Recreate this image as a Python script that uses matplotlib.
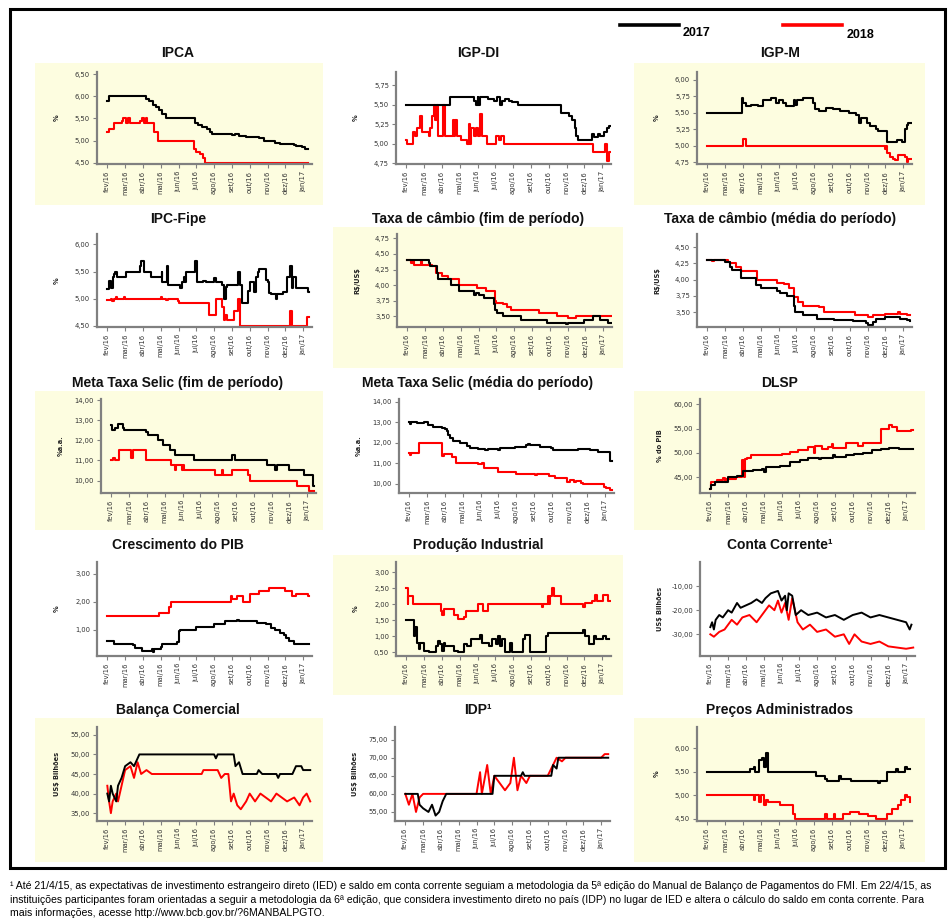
import matplotlib
matplotlib.use("Agg")
import matplotlib.pyplot as plt
from matplotlib.patches import Rectangle
from matplotlib.lines import Line2D
from matplotlib.ticker import FuncFormatter

W, H = 949, 922

months = ["fev/16", "mar/16", "abr/16", "mai/16", "jun/16", "jul/16",
          "ago/16", "set/16", "out/16", "nov/16", "dez/16", "jan/17"]

# each series: (month offset from fev/16, value) breakpoints
ipca_2017 = [(0, 5.9), (0.1, 6.0), (2.2, 5.95), (2.35, 5.9), (2.55, 5.8), (2.75, 5.75), (2.9, 5.7),
             (3.1, 5.6), (3.3, 5.5), (4.9, 5.4), (5.1, 5.35), (5.3, 5.3), (5.6, 5.25), (5.75, 5.2),
             (5.9, 5.15), (7.0, 5.13), (7.2, 5.15), (7.4, 5.1), (7.8, 5.08), (8.0, 5.07), (8.5, 5.05),
             (8.8, 5.0), (9.2, 4.98), (9.4, 4.95), (9.7, 4.93), (10.2, 4.92), (10.5, 4.9), (10.6, 4.87),
             (10.75, 4.88), (10.95, 4.85), (11.1, 4.82), (11.2, 4.8), (11.25, 4.8)]
ipca_2018 = [(0, 5.2), (0.1, 5.25), (0.35, 5.4), (0.8, 5.45), (0.9, 5.5), (1.05, 5.4), (1.15, 5.5),
             (1.3, 5.4), (1.85, 5.45), (1.95, 5.5), (2.05, 5.4), (2.15, 5.5), (2.25, 5.4), (2.6, 5.2),
             (2.85, 5.0), (4.87, 4.8), (5.0, 4.75), (5.2, 4.7), (5.35, 4.6), (5.48, 4.5), (11.25, 4.5)]

igpdi_2017 = [(0, 5.5), (2.45, 5.6), (3.8, 5.55), (3.9, 5.5), (4.0, 5.6), (4.05, 5.5), (4.15, 5.6),
              (4.6, 5.57), (4.9, 5.55), (5.1, 5.6), (5.25, 5.5), (5.4, 5.55), (5.55, 5.58), (5.75, 5.55),
              (5.95, 5.53), (6.3, 5.5), (8.7, 5.4), (9.15, 5.35), (9.3, 5.3), (9.45, 5.2), (9.55, 5.1),
              (9.65, 5.05), (10.45, 5.13), (10.55, 5.08), (10.75, 5.13), (10.9, 5.1), (11.1, 5.15),
              (11.3, 5.2), (11.4, 5.23), (11.45, 5.23)]
igpdi_2018 = [(0, 5.05), (0.05, 5.0), (0.35, 5.15), (0.5, 5.1), (0.6, 5.2), (0.75, 5.35), (0.9, 5.15),
              (1.25, 5.1), (1.35, 5.2), (1.45, 5.35), (1.55, 5.5), (1.62, 5.3), (1.7, 5.5), (1.8, 5.1),
              (2.05, 5.5), (2.2, 5.1), (2.6, 5.3), (2.68, 5.1), (2.75, 5.3), (2.85, 5.1), (3.1, 5.05),
              (3.4, 5.0), (3.5, 5.25), (3.58, 5.0), (3.65, 5.2), (3.8, 5.1), (3.9, 5.2), (4.0, 5.1),
              (4.15, 5.38), (4.25, 5.1), (4.55, 5.0), (5.05, 5.1), (5.2, 5.05), (5.3, 5.1), (5.5, 5.0),
              (10.5, 4.9), (11.15, 5.0), (11.25, 4.9), (11.3, 4.78), (11.37, 4.9), (11.45, 4.9)]

igpm_2017 = [(0, 5.5), (1.95, 5.72), (2.0, 5.65), (2.15, 5.6), (2.45, 5.62), (2.85, 5.6), (3.15, 5.7),
             (3.55, 5.72), (3.85, 5.65), (4.0, 5.7), (4.25, 5.65), (4.4, 5.6), (4.85, 5.7), (4.95, 5.62),
             (5.05, 5.7), (5.35, 5.72), (5.95, 5.65), (6.05, 5.55), (6.3, 5.52), (6.65, 5.57), (7.05, 5.55),
             (7.45, 5.52), (7.95, 5.5), (8.35, 5.47), (8.55, 5.35), (8.65, 5.42), (8.95, 5.35), (9.15, 5.3),
             (9.45, 5.25), (9.6, 5.22), (10.1, 5.05), (10.65, 5.08), (10.95, 5.05), (11.1, 5.25),
             (11.2, 5.32), (11.3, 5.35), (11.47, 5.35)]
igpm_2018 = [(0, 5.0), (2.0, 5.1), (2.2, 5.0), (10.0, 4.95), (10.05, 5.0), (10.12, 4.88), (10.25, 4.82),
             (10.45, 4.8), (10.55, 4.78), (10.7, 4.85), (11.1, 4.82), (11.2, 4.75), (11.3, 4.8), (11.47, 4.8)]

ipcfipe_2017 = [(0, 5.18), (0.12, 5.32), (0.22, 5.2), (0.3, 5.4), (0.4, 5.45), (0.45, 5.5), (0.52, 5.4),
                (1.05, 5.5), (1.85, 5.6), (1.92, 5.7), (2.08, 5.5), (2.45, 5.4), (3.05, 5.5), (3.1, 5.3),
                (3.35, 5.6), (3.42, 5.25), (4.1, 5.2), (4.2, 5.3), (4.3, 5.4), (4.35, 5.3), (4.42, 5.5),
                (4.95, 5.7), (5.02, 5.3), (5.35, 5.33), (5.55, 5.3), (6.0, 5.38), (6.1, 5.3), (6.45, 5.25),
                (6.55, 5.0), (6.65, 5.22), (6.75, 5.25), (7.35, 5.5), (7.45, 5.25), (7.55, 4.93), (7.9, 5.15),
                (8.0, 5.3), (8.25, 5.12), (8.35, 5.4), (8.45, 5.5), (8.55, 5.55), (8.9, 5.35), (9.0, 5.3),
                (9.1, 5.1), (9.2, 5.08), (9.5, 5.0), (9.55, 5.08), (9.85, 5.13), (10.1, 5.4), (10.28, 5.6),
                (10.38, 5.2), (10.45, 5.4), (10.58, 5.2), (11.25, 5.13), (11.35, 5.13)]
ipcfipe_2018 = [(0, 4.97), (0.2, 5.0), (0.28, 4.95), (0.35, 5.0), (0.48, 5.03), (0.55, 5.0), (0.95, 5.04),
                (1.02, 5.0), (3.0, 5.03), (3.08, 5.0), (3.3, 4.97), (3.4, 5.0), (3.95, 4.95), (4.0, 4.92),
                (5.73, 4.7), (6.1, 5.0), (6.45, 4.85), (6.55, 4.6), (6.62, 4.7), (6.72, 4.6), (7.1, 4.77),
                (7.35, 5.0), (7.45, 4.5), (10.28, 4.77), (10.38, 4.5), (11.24, 4.66), (11.35, 4.66)]

cambio_fim_2017 = [(0, 4.4), (1.2, 4.35), (1.3, 4.3), (1.65, 4.2), (1.75, 4.1), (2.45, 4.0), (2.88, 3.9),
                   (3.75, 3.85), (3.85, 3.88), (4.0, 3.85), (4.31, 3.8), (4.87, 3.7), (4.95, 3.6),
                   (5.05, 3.55), (5.35, 3.5), (6.4, 3.45), (7.85, 3.4), (8.9, 3.38), (9.05, 3.4),
                   (9.9, 3.45), (10.45, 3.5), (10.85, 3.45), (11.3, 3.4), (11.45, 3.4)]
cambio_fim_2018 = [(0, 4.4), (0.2, 4.35), (0.3, 4.38), (0.4, 4.32), (0.75, 4.38), (0.85, 4.32), (1.4, 4.3),
                   (1.6, 4.2), (1.95, 4.15), (2.3, 4.1), (2.88, 4.0), (3.9, 3.95), (4.4, 3.9), (4.9, 3.75),
                   (5.0, 3.72), (5.35, 3.7), (5.6, 3.65), (5.8, 3.6), (7.4, 3.55), (8.4, 3.5), (9.0, 3.48),
                   (9.45, 3.5), (11.45, 3.5)]

cambio_med_2017 = [(0, 4.3), (1.0, 4.27), (1.25, 4.2), (1.4, 4.15), (1.87, 4.03), (2.75, 3.92), (3.0, 3.87),
                   (3.9, 3.83), (4.1, 3.8), (4.45, 3.75), (4.85, 3.6), (4.95, 3.5), (5.35, 3.45), (6.15, 3.4),
                   (7.1, 3.38), (8.2, 3.36), (8.9, 3.33), (9.05, 3.3), (9.3, 3.35), (9.45, 3.4), (10.0, 3.42),
                   (10.8, 3.4), (11.2, 3.37), (11.4, 3.36)]
cambio_med_2018 = [(0, 4.3), (0.25, 4.28), (0.4, 4.3), (1.15, 4.27), (1.3, 4.25), (1.6, 4.2), (1.87, 4.13),
                   (2.77, 4.0), (3.89, 3.95), (4.3, 3.93), (4.6, 3.87), (4.88, 3.73), (5.1, 3.65), (5.4, 3.6),
                   (6.3, 3.58), (6.55, 3.5), (8.3, 3.45), (9.0, 3.42), (9.3, 3.45), (10.0, 3.47), (10.7, 3.5),
                   (10.85, 3.47), (11.2, 3.45), (11.4, 3.45)]

selic_fim_2017 = [(0, 12.75), (0.05, 12.5), (0.2, 12.6), (0.38, 12.8), (0.63, 12.6), (0.7, 12.5), (1.95, 12.4),
                  (2.05, 12.25), (2.6, 12.0), (2.9, 11.75), (3.28, 11.5), (3.56, 11.25), (4.67, 11.0),
                  (6.8, 11.25), (6.95, 11.0), (8.76, 10.75), (9.2, 10.5), (9.3, 10.75), (10.0, 10.5),
                  (10.8, 10.25), (11.33, 9.75), (11.37, 9.75)]
selic_fim_2018 = [(0, 11.0), (0.1, 11.1), (0.2, 11.0), (0.42, 11.5), (1.1, 11.1), (1.2, 11.5), (1.94, 11.0),
                  (3.33, 10.75), (3.6, 10.5), (3.65, 10.75), (3.95, 10.5), (4.0, 10.75), (4.1, 10.5),
                  (5.85, 10.25), (6.2, 10.5), (6.28, 10.25), (6.8, 10.5), (7.68, 10.25), (7.8, 10.0),
                  (10.45, 9.75), (11.12, 9.5), (11.37, 9.5)]

selic_med_2017 = [(0, 13.0), (0.05, 12.9), (0.1, 13.0), (0.45, 12.95), (0.85, 13.0), (1.05, 12.85), (1.35, 12.8),
                  (1.85, 12.75), (2.0, 12.7), (2.1, 12.6), (2.2, 12.4), (2.3, 12.25), (2.45, 12.1), (2.85, 12.0),
                  (3.25, 11.85), (3.4, 11.75), (3.85, 11.7), (4.25, 11.65), (4.4, 11.7), (5.0, 11.65),
                  (5.1, 11.75), (5.95, 11.8), (6.55, 11.9), (6.65, 11.95), (6.8, 11.9), (7.35, 11.8),
                  (7.95, 11.75), (8.05, 11.65), (9.45, 11.7), (10.15, 11.65), (10.6, 11.55), (11.3, 11.1),
                  (11.37, 11.1)]
selic_med_2018 = [(0, 11.5), (0.05, 11.4), (0.1, 11.5), (0.55, 12.0), (1.82, 11.35), (1.95, 11.45), (2.4, 11.3),
                  (2.6, 11.0), (3.85, 10.95), (4.1, 11.0), (4.2, 10.8), (5.0, 10.6), (6.0, 10.5), (7.05, 10.45),
                  (7.15, 10.5), (7.85, 10.4), (8.2, 10.3), (8.85, 10.1), (9.0, 10.2), (9.25, 10.1),
                  (9.35, 10.15), (9.65, 10.05), (9.75, 10.0), (10.95, 9.85), (11.05, 9.8), (11.25, 9.7),
                  (11.37, 9.7)]

dlsp_2017 = [(0, 42.5), (0.05, 43.3), (0.25, 44.0), (1.0, 45.0), (1.5, 45.3), (1.85, 46.2), (2.4, 46.4),
             (2.9, 46.6), (3.0, 46.1), (3.15, 47.0), (3.9, 47.2), (4.45, 48.0), (5.05, 48.6), (5.5, 49.0),
             (6.1, 48.8), (6.2, 49.0), (6.9, 49.5), (7.0, 49.2), (7.6, 49.5), (8.1, 49.8), (8.6, 50.0),
             (9.1, 50.5), (9.6, 50.8), (10.05, 51.0), (10.6, 50.7), (11.4, 50.8)]
dlsp_2018 = [(0, 42.5), (0.05, 44.0), (0.4, 44.3), (0.7, 44.8), (0.85, 44.0), (0.9, 44.5), (1.45, 45.0),
             (1.8, 48.5), (1.87, 45.0), (1.95, 48.7), (2.05, 49.0), (2.3, 49.5), (4.0, 49.8), (4.5, 50.2),
             (4.9, 50.5), (5.5, 51.2), (5.82, 50.0), (5.9, 51.3), (6.3, 50.8), (6.6, 51.2), (6.85, 51.8),
             (6.92, 51.0), (7.6, 52.0), (8.3, 51.5), (8.6, 52.0), (9.6, 55.0), (10.05, 55.8), (10.2, 55.3),
             (10.5, 54.5), (11.3, 54.8), (11.4, 54.8)]

pib_2017 = [(0, 0.6), (0.35, 0.5), (1.45, 0.45), (1.55, 0.35), (1.95, 0.25), (2.5, 0.3), (2.55, 0.2),
            (2.6, 0.3), (3.0, 0.4), (3.1, 0.5), (3.9, 0.55), (4.05, 0.95), (4.1, 1.0), (5.0, 1.1), (6.0, 1.2),
            (6.6, 1.3), (7.3, 1.35), (7.4, 1.3), (8.4, 1.25), (8.9, 1.2), (9.2, 1.05), (9.4, 1.0), (9.7, 0.9),
            (9.9, 0.8), (10.05, 0.7), (10.2, 0.6), (10.5, 0.5), (11.35, 0.5)]
pib_2018 = [(0, 1.5), (2.9, 1.6), (3.45, 1.8), (3.55, 2.0), (6.95, 2.2), (7.0, 2.1), (7.3, 2.2), (7.6, 2.0),
            (8.0, 2.3), (8.55, 2.4), (9.1, 2.5), (10.0, 2.4), (10.4, 2.2), (10.6, 2.3), (11.3, 2.2), (11.35, 2.2)]

prod_2017 = [(0, 1.5), (0.42, 1.0), (0.5, 1.3), (0.6, 0.8), (0.7, 0.6), (0.75, 0.8), (1.0, 0.55), (1.3, 0.5),
             (1.65, 0.7), (1.8, 0.85), (1.9, 0.75), (2.03, 0.55), (2.1, 0.8), (2.2, 0.7), (2.7, 0.55), (2.9, 0.5),
             (3.25, 0.75), (3.4, 0.7), (3.65, 0.9), (4.15, 1.05), (4.25, 0.8), (4.65, 0.7), (4.8, 0.9),
             (5.05, 0.75), (5.15, 1.0), (5.25, 0.7), (5.35, 0.9), (5.55, 0.5), (5.85, 0.8), (5.95, 0.5),
             (6.55, 0.9), (6.65, 1.05), (6.95, 0.5), (7.85, 1.0), (7.95, 1.1), (9.9, 1.2), (10.05, 1.0),
             (10.25, 0.75), (10.55, 1.0), (10.65, 0.9), (11.05, 1.0), (11.2, 0.9), (11.4, 0.9)]
prod_2018 = [(0, 2.5), (0.08, 2.0), (0.12, 2.25), (0.35, 2.0), (1.95, 1.8), (2.0, 1.65), (2.1, 1.85),
             (2.7, 1.65), (2.9, 1.55), (3.25, 1.6), (3.35, 1.8), (4.0, 2.0), (4.3, 1.8), (4.6, 2.0), (7.6, 1.9),
             (7.68, 2.0), (7.95, 2.25), (8.02, 2.0), (8.1, 2.25), (8.2, 2.5), (8.28, 2.25), (8.7, 2.0),
             (9.95, 1.9), (10.05, 2.05), (10.45, 2.1), (10.6, 2.3), (10.7, 2.1), (11.05, 2.3), (11.35, 2.1),
             (11.45, 2.1)]

conta_2017 = [(0, -27), (0.1, -25), (0.2, -28), (0.3, -24), (0.5, -22), (0.7, -23), (1.0, -20), (1.2, -21),
              (1.5, -17), (1.7, -19), (2.0, -18), (2.3, -17), (2.6, -15.5), (2.9, -17), (3.1, -15), (3.4, -13),
              (3.8, -12), (4.0, -16), (4.2, -14), (4.3, -20), (4.4, -13), (4.6, -14), (4.8, -22), (5.1, -20),
              (5.5, -22), (6.0, -21), (6.5, -23), (7.0, -22), (7.5, -24), (8.0, -22), (8.5, -21), (9.0, -23),
              (9.5, -22), (10.0, -23), (10.5, -24), (11.0, -25), (11.2, -28), (11.3, -26)]
conta_2018 = [(0, -30), (0.2, -31), (0.5, -29), (0.8, -28), (1.2, -24), (1.5, -26), (1.8, -23), (2.2, -22),
              (2.6, -25), (2.9, -22), (3.3, -18), (3.6, -20), (3.8, -16), (4.0, -21), (4.2, -17), (4.4, -24),
              (4.6, -15), (4.9, -25), (5.2, -28), (5.6, -26), (6.0, -29), (6.5, -28), (7.0, -31), (7.5, -30),
              (7.8, -34), (8.1, -30), (8.5, -33), (9.0, -34), (9.5, -33), (10.0, -35), (10.5, -35.5),
              (11.0, -36), (11.4, -35.5)]

balanca_2017 = [(0, 40), (0.1, 38), (0.2, 42), (0.3, 40), (0.5, 38), (0.6, 42), (0.8, 44), (1.0, 47), (1.3, 48),
                (1.5, 47), (1.8, 50), (6.0, 50), (6.1, 49), (6.2, 50), (7.1, 50), (7.2, 47), (7.4, 48), (7.6, 45),
                (8.4, 45), (8.5, 46), (8.7, 45), (9.5, 45), (9.6, 44), (9.7, 45), (10.4, 45), (10.6, 47),
                (10.9, 47), (11.0, 46), (11.4, 46)]
balanca_2018 = [(0, 42), (0.1, 38), (0.2, 35), (0.3, 38), (0.5, 40), (0.6, 38), (0.8, 42), (1.0, 46), (1.3, 47),
                (1.5, 44), (1.7, 48), (1.9, 45), (2.2, 46), (2.5, 45), (5.3, 45), (5.4, 46), (6.2, 46), (6.4, 44),
                (6.6, 45), (6.8, 45), (6.95, 38), (7.1, 40), (7.3, 37), (7.5, 36), (7.8, 38), (8.0, 40),
                (8.3, 38), (8.6, 40), (8.9, 39), (9.2, 38), (9.5, 40), (9.8, 39), (10.1, 38), (10.5, 39),
                (10.8, 37), (11.0, 39), (11.2, 40), (11.4, 38)]

idp_2017 = [(0, 60), (0.7, 60), (0.8, 57), (1.0, 56), (1.3, 55), (1.5, 57), (1.7, 54), (1.9, 55), (2.1, 58),
            (2.3, 60), (4.9, 60), (5.0, 65), (6.5, 65), (6.6, 66), (6.7, 65), (8.2, 65), (8.3, 68), (8.5, 67),
            (8.6, 70), (11.4, 70)]
idp_2018 = [(0, 60), (0.2, 57), (0.4, 60), (0.6, 55), (0.8, 59), (1.0, 60), (4.0, 60), (4.2, 66), (4.3, 60),
            (4.6, 68), (4.8, 60), (5.0, 65), (5.3, 63), (5.6, 61), (5.9, 63), (6.1, 70), (6.3, 61), (6.5, 65),
            (6.8, 63), (7.0, 65), (8.0, 65), (8.2, 67), (8.5, 70), (8.8, 69), (9.0, 70), (11.0, 70),
            (11.2, 71), (11.4, 71)]

precos_2017 = [(0, 5.5), (2.3, 5.5), (2.4, 5.55), (2.6, 5.6), (2.7, 5.5), (2.9, 5.75), (3.1, 5.8), (3.2, 5.6),
               (3.3, 5.9), (3.4, 5.5), (6.0, 5.5), (6.1, 5.4), (6.5, 5.4), (6.6, 5.35), (6.7, 5.3), (7.3, 5.3),
               (7.4, 5.4), (7.5, 5.35), (8.0, 5.35), (8.1, 5.3), (9.5, 5.3), (9.6, 5.25), (9.7, 5.3), (10.0, 5.3),
               (10.1, 5.5), (10.5, 5.5), (10.6, 5.55), (10.7, 5.5), (11.0, 5.5), (11.1, 5.6), (11.2, 5.55),
               (11.4, 5.55)]
precos_2018 = [(0, 5.0), (2.5, 5.0), (2.6, 4.9), (2.7, 5.0), (2.9, 4.85), (3.0, 5.0), (3.2, 4.8), (3.3, 4.9),
               (3.4, 4.85), (4.0, 4.85), (4.1, 4.8), (4.7, 4.8), (4.8, 4.6), (4.9, 4.5), (6.5, 4.5), (6.6, 4.6),
               (6.7, 4.5), (7.0, 4.5), (7.1, 4.6), (7.2, 4.5), (7.5, 4.5), (7.6, 4.6), (8.0, 4.65), (8.5, 4.6),
               (9.0, 4.55), (9.5, 4.5), (10.0, 4.5), (10.1, 4.6), (10.4, 4.7), (10.7, 4.8), (10.9, 4.9),
               (11.1, 5.0), (11.2, 4.95), (11.4, 4.85)]

# title, ylabel, data 2017, data 2018, yticks, ylim, step drawing
panels = [
    ("IPCA", "%", ipca_2017, ipca_2018, [4.5, 5.0, 5.5, 6.0, 6.5], (4.47, 6.55), True),
    ("IGP-DI", "%", igpdi_2017, igpdi_2018, [4.75, 5.0, 5.25, 5.5, 5.75], (4.74, 5.92), True),
    ("IGP-M", "%", igpm_2017, igpm_2018, [4.75, 5.0, 5.25, 5.5, 5.75, 6.0], (4.72, 6.12), True),
    ("IPC-Fipe", "%", ipcfipe_2017, ipcfipe_2018, [4.5, 5.0, 5.5, 6.0], (4.48, 6.19), True),
    ("Taxa de câmbio (fim de período)", r"R\$/US\$", cambio_fim_2017, cambio_fim_2018,
     [3.5, 3.75, 4.0, 4.25, 4.5, 4.75], (3.33, 4.82), True),
    ("Taxa de câmbio (média do período)", r"R\$/US\$", cambio_med_2017, cambio_med_2018,
     [3.5, 3.75, 4.0, 4.25, 4.5], (3.27, 4.70), True),
    ("Meta Taxa Selic (fim de período)", "%a.a.", selic_fim_2017, selic_fim_2018,
     [10, 11, 12, 13, 14], (9.38, 14.05), True),
    ("Meta Taxa Selic (média do período)", "%a.a.", selic_med_2017, selic_med_2018,
     [10, 11, 12, 13, 14], (9.56, 14.14), True),
    ("DLSP", "% do PIB", dlsp_2017, dlsp_2018, [45, 50, 55, 60], (41.7, 61.1), True),
    ("Crescimento do PIB", "%", pib_2017, pib_2018, [1, 2, 3], (0.06, 3.43), True),
    ("Produção Industrial", "%", prod_2017, prod_2018, [0.5, 1.0, 1.5, 2.0, 2.5, 3.0], (0.38, 3.32), True),
    ("Conta Corrente¹", r"US\$ Bilhões", conta_2017, conta_2018, [-30, -20, -10], (-39, 0), False),
    ("Balança Comercial", r"US\$ Bilhões", balanca_2017, balanca_2018, [35, 40, 45, 50, 55], (33, 57), False),
    ("IDP¹", r"US\$ Bilhões", idp_2017, idp_2018, [55, 60, 65, 70, 75], (52.5, 78.5), False),
    ("Preços Administrados", "%", precos_2017, precos_2018, [4.5, 5.0, 5.5, 6.0], (4.45, 6.45), True),
]

# layout in pixels
axes_left = [[97, 396, 697], [97, 397, 697], [101, 399, 700], [97, 396, 700], [97, 395, 697]]
row_top_bottom = [(72, 164), (234, 327), (399, 493), (562, 656), (727, 821)]
title_y = [53, 219, 383, 545, 710]
col_center = [178, 478, 780]
yellow = [(0, 0), (0, 2), (1, 1), (2, 0), (2, 2), (3, 1), (4, 0), (4, 2)]
box_x = [(35, 323), (333, 623), (634, 925)]
box_y = [(63, 205), (227, 368), (391, 530), (555, 695), (718, 862)]


def fig_rect(l, t, r, b):
    return [l / W, 1 - b / H, (r - l) / W, (b - t) / H]


def comma_fmt(v, pos):
    return f"{v:.2f}".replace(".", ",")


fig = plt.figure(figsize=(W / 100, H / 100), dpi=100)
fig.patch.set_facecolor("white")

for (r, c) in yellow:
    x0, x1 = box_x[c]
    y0, y1 = box_y[r]
    fig.add_artist(Rectangle((x0 / W, 1 - y1 / H), (x1 - x0) / W, (y1 - y0) / H,
                             transform=fig.transFigure, facecolor="#fdfde0", edgecolor="none", zorder=0))

fig.add_artist(Rectangle((10 / W, 1 - 868 / H), 935 / W, 859 / H, transform=fig.transFigure,
                         facecolor="none", edgecolor="black", linewidth=2.2, zorder=5))

for i, (title, ylab, d17, d18, yt, yl, step) in enumerate(panels):
    r, c = divmod(i, 3)
    left = axes_left[r][c]
    top, bottom = row_top_bottom[r]
    ax = fig.add_axes(fig_rect(left, top, left + 215, bottom))
    ax.patch.set_alpha(0)
    for d, col in ((d18, "#ff0000"), (d17, "black")):
        xs = [p[0] for p in d]
        ys = [p[1] for p in d]
        if step:
            ax.step(xs, ys, where="post", color=col, linewidth=1.5)
        else:
            ax.plot(xs, ys, color=col, linewidth=1.4)
    ax.set_xlim(-0.58, 11.5)
    ax.set_ylim(*yl)
    ax.set_yticks(yt)
    ax.yaxis.set_major_formatter(FuncFormatter(comma_fmt))
    ax.set_xticks(range(len(months)))
    ax.set_xticklabels(months, rotation=90)
    for s in ("top", "right"):
        ax.spines[s].set_visible(False)
    for s in ("left", "bottom"):
        ax.spines[s].set_color("#808080")
        ax.spines[s].set_linewidth(1.6)
    ax.tick_params(axis="both", direction="out", length=3, width=0.8, color="#808080",
                   labelsize=4.9, labelcolor="#333333", pad=2)
    fig.text((left - 40) / W, 1 - (top + bottom) / 2 / H, ylab, rotation=90, ha="center", va="center",
             fontsize=4.8, fontweight="bold", color="#222222")
    fig.text(col_center[c] / W, 1 - title_y[r] / H, title, ha="center", va="center",
             fontsize=10, fontweight="bold", family="Liberation Sans", color="#111111")

# legend
fig.add_artist(Line2D([620 / W, 679 / W], [1 - 25 / H, 1 - 25 / H], color="black", linewidth=2.6))
fig.text(683 / W, 1 - 33 / H, "2017", ha="left", va="center", fontsize=9, fontweight="bold",
         family="Liberation Sans")
fig.add_artist(Line2D([783 / W, 842 / W], [1 - 25 / H, 1 - 25 / H], color="#ff0000", linewidth=2.6))
fig.text(847 / W, 1 - 35 / H, "2018", ha="left", va="center", fontsize=9, fontweight="bold",
         family="Liberation Sans")

notes = [
    "¹ Até 21/4/15, as expectativas de investimento estrangeiro direto (IED) e saldo em conta corrente seguiam a "
    "metodologia da 5ª edição do Manual de Balanço de Pagamentos do FMI. Em 22/4/15, as",
    "instituições participantes foram orientadas a seguir a metodologia da 6ª edição, que considera investimento "
    "direto no país (IDP) no lugar de IED e altera o cálculo do saldo em conta corrente. Para",
    "mais informações, acesse http://www.bcb.gov.br/?6MANBALPGTO.",
]
for k, line in enumerate(notes):
    fig.text(10 / W, 1 - (886 + 13.5 * k) / H, line, ha="left", va="center", fontsize=7.6,
             family=["Liberation Sans Narrow", "Liberation Sans"])

fig.savefig("out.png", dpi=100)
